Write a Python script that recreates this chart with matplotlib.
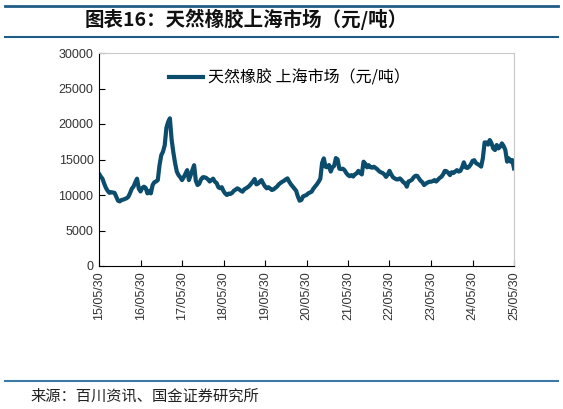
import matplotlib
matplotlib.use("Agg")
import matplotlib.pyplot as plt
import pandas as pd
from matplotlib.lines import Line2D

plt.rcParams['font.family'] = ['Liberation Sans', 'Noto Sans CJK SC', 'DejaVu Sans']

title = "图表16：天然橡胶上海市场（元/吨）"
series_name = "天然橡胶 上海市场（元/吨）"
source = "来源：百川资讯、国金证券研究所"

# semi-monthly readings, 2015-05-30 .. 2025-05-30
start_date = "2015-05-30"
end_date = "2025-05-30"
values = [
    13000, 12600, 12300, 11600, 11000, 10600, 10300, 10400, 10350, 10300,
    9760, 9200, 9100, 9300, 9350, 9450, 9550, 9760, 10300, 10900,
    11200, 11800, 12300, 10900, 10500, 11000, 11170, 11000, 10230, 10600,
    10230, 11400, 11800, 11900, 12100, 14200, 15600, 16100, 17000, 19500,
    20300, 20800, 17800, 16000, 14500, 13300, 12800, 12500, 12100, 12500,
    13000, 13500, 12100, 12800, 13500, 14200, 12000, 11400, 11600, 12200,
    12500, 12500, 12400, 12200, 11900, 12100, 12300, 11870, 11700, 11100,
    10950, 11100, 10550, 10200, 10000, 10200, 10150, 10300, 10600, 10750,
    10940, 10800, 10600, 10470, 10800, 10940, 11100, 11300, 11600, 11900,
    12250, 11500, 11600, 11900, 12100, 11600, 11200, 10940, 11100, 10900,
    10700, 10800, 11000, 11200, 11500, 11700, 11870, 12000, 12200, 12340,
    11870, 11500, 11200, 10900, 10600, 9800, 9200, 9300, 9800, 9900,
    10000, 10230, 10350, 10470, 10900, 11200, 11500, 11870, 12300, 14500,
    15160, 13980, 13900, 14220, 13300, 13900, 14100, 15200, 15000, 13700,
    13650, 13700, 13500, 13100, 12800, 12650, 12800, 12600, 12900, 13050,
    13400, 13100, 12900, 14690, 14400, 13900, 14200, 13900, 13850, 13980,
    13800, 13600, 13350, 13200, 13100, 12900, 12550, 12900, 13400, 12900,
    12500, 12340, 12200, 12200, 12340, 12100, 11800, 11650, 11170, 11900,
    12000, 12150, 12500, 12700, 12700, 12340, 12000, 11800, 11400, 11600,
    11750, 11870, 11870, 11950, 12100, 11900, 12150, 12400, 12570, 12900,
    13400, 13350, 13100, 12800, 13200, 13100, 13300, 13500, 13300, 13400,
    13900, 14600, 13900, 13800, 13980, 14300, 14800, 14900, 14500, 14350,
    14200, 14000, 15200, 17400, 17400, 17100, 17740, 17270, 16560, 16330,
    17040, 16560, 16800, 17270, 16900, 16330, 14700, 15160, 14700, 14920,
    13750,
]
dates = pd.date_range(start=start_date, end=end_date, periods=len(values))

tick_labels = ["15/05/30", "16/05/30", "17/05/30", "18/05/30", "19/05/30", "20/05/30",
               "21/05/30", "22/05/30", "23/05/30", "24/05/30", "25/05/30"]
tick_dates = pd.to_datetime(["20" + t[:2] + "-05-30" for t in tick_labels])
yticks = [0, 5000, 10000, 15000, 20000, 25000, 30000]

line_color = "#0c4d6d"

fig = plt.figure(figsize=(5.63, 4.09), dpi=100)
ax = fig.add_axes([99/563, 1-266/409, (514-99)/563, (266-53)/409])
ax.plot(dates, values, color=line_color, lw=3.0, solid_joinstyle="round")
ax.set_xlim(tick_dates[0], tick_dates[-1])
ax.set_ylim(0, 30000)
ax.set_yticks(yticks)
ax.set_yticklabels([str(v) for v in yticks], fontsize=9, color="#333333")
ax.set_xticks(tick_dates)
ax.set_xticklabels(tick_labels, rotation=90, fontsize=9, color="#333333")
ax.tick_params(axis="both", direction="in", length=4, width=0.8, pad=4)
for s in ["top", "right"]:
    ax.spines[s].set_color("#c8c8c8")
    ax.spines[s].set_linewidth(0.8)
for s in ["left", "bottom"]:
    ax.spines[s].set_color("#000000")
    ax.spines[s].set_linewidth(0.8)

leg = ax.legend([Line2D([0], [0], color=line_color, lw=3)], [series_name],
                loc="upper left", bbox_to_anchor=(0.135, 0.99), frameon=False,
                handlelength=2.1, handletextpad=0.3,
                prop={"family": ["Noto Sans CJK SC"], "size": 11.5})

# header / footer rules
fig.add_artist(Line2D([5/563, 558/563], [1-6/409, 1-6/409], color="#1f5d86", lw=2))
fig.add_artist(Line2D([5/563, 558/563], [1-37/409, 1-37/409], color="#1f5d86", lw=1.5))
fig.add_artist(Line2D([5/563, 558/563], [1-381/409, 1-381/409], color="#3c7aa5", lw=1.5))
fig.text(85/563, 1-19/409, title, fontsize=14, fontweight="bold", style="italic",
         family=["Noto Sans CJK SC"], va="center", ha="left", color="#111111")
fig.text(30/563, 1-396/409, source, fontsize=11, family=["Noto Sans CJK SC"],
         va="center", ha="left", color="#222222")

fig.savefig("out.png", dpi=100)
